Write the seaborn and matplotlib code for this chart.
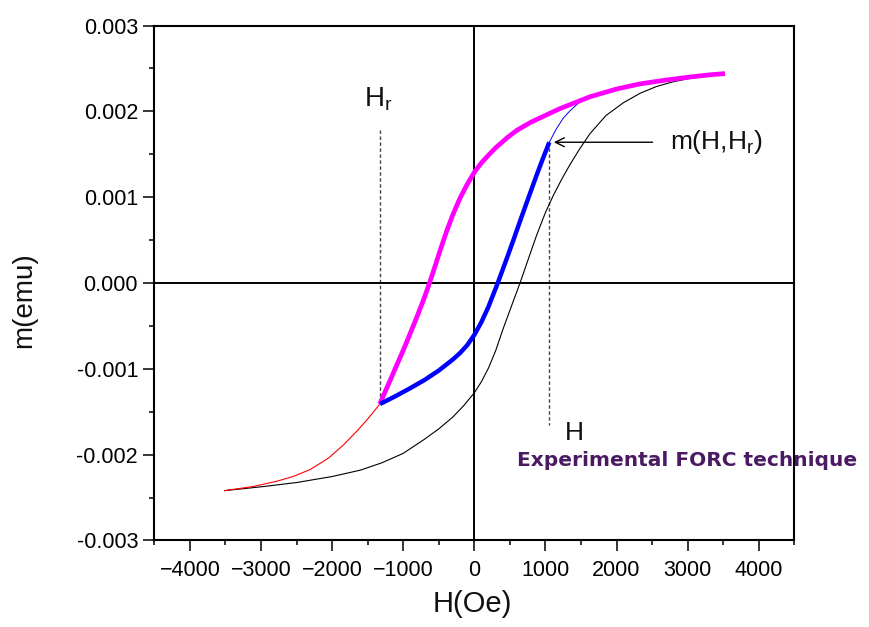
import numpy as np
import pandas as pd
import matplotlib
matplotlib.use("Agg")
import matplotlib.pyplot as plt
import seaborn as sns
from matplotlib.ticker import MultipleLocator, FormatStrFormatter

# Descending branch of the major loop, above the reversal field (thick magenta), m in emu
upper_H = [3526, 3300, 3034, 2700, 2331, 2000, 1627, 1200, 928, 800, 600, 465, 300, 200, 100, 0,
           -100, -200, -300, -388, -440, -500, -560, -630, -700, -800, -900, -995, -1100, -1200, -1330]
upper_m = [0.00244, 0.002425, 0.00240, 0.002365, 0.00232, 0.00226, 0.00217, 0.00203, 0.001925,
           0.001875, 0.00178, 0.001695, 0.001575, 0.00149, 0.00140, 0.00129, 0.00115, 0.00099,
           0.00080, 0.000605, 0.00048, 0.00033, 0.000175, 0.0, -0.000165, -0.00038, -0.000585,
           -0.000775, -0.000975, -0.001165, -0.00141]

# Descending branch below the reversal field (thin red)
lower_desc_H = [-1330, -1420, -1510, -1650, -1838, -2050, -2311, -2550, -2779, -3100, -3520]
lower_desc_m = [-0.00141, -0.001505, -0.001595, -0.001725, -0.001885, -0.00204, -0.002175,
                -0.002255, -0.00231, -0.00237, -0.00242]

# Ascending branch of the major loop (thin black)
asc_H = [-3520, -3000, -2500, -2000, -1600, -1300, -1000, -700, -500, -300, -150, 0, 100, 200, 300,
         407, 500, 643, 760, 878, 1000, 1111, 1230, 1346, 1480, 1627, 1850, 2096, 2330, 2565, 2800,
         3034, 3300, 3526]
asc_m = [-0.00242, -0.002375, -0.002325, -0.002255, -0.00218, -0.002095, -0.001985, -0.00182,
         -0.00170, -0.00156, -0.00143, -0.00128, -0.00115, -0.00099, -0.00079, -0.00053, -0.00032,
         0.0, 0.00028, 0.00056, 0.00082, 0.00102, 0.00121, 0.00138, 0.00156, 0.00174, 0.00195,
         0.00210, 0.00221, 0.00229, 0.002345, 0.002385, 0.00242, 0.00244]

# First-order reversal curve from Hr up to the measurement field H (thick blue)
forc_H = [-1326, -1100, -900, -700, -500, -300, -200, -100, 0, 100, 200, 330, 450, 550, 643, 760,
          878, 960, 1055]
forc_m = [-0.00141, -0.001315, -0.001225, -0.00113, -0.00102, -0.00089, -0.000815, -0.000725,
          -0.000605, -0.000455, -0.000275, 0.0, 0.00027, 0.00050, 0.00072, 0.00099, 0.00126,
          0.00144, 0.00164]

# Continuation of the reversal curve until it rejoins the upper branch (thin blue)
forc_tail_H = [1055, 1150, 1250, 1350, 1450, 1540, 1627]
forc_tail_m = [0.00164, 0.00179, 0.00192, 0.00201, 0.002085, 0.002135, 0.00217]

Hr_value = -1330
H_value = 1055
m_value = 0.00164

x_ticks = [-4000, -3000, -2000, -1000, 0, 1000, 2000, 3000, 4000]
y_ticks = [-0.003, -0.002, -0.001, 0.0, 0.001, 0.002, 0.003]

sns.set_theme(style="white")
plt.rcParams["font.family"] = ["Liberation Sans", "DejaVu Sans"]
plt.rcParams["mathtext.default"] = "regular"

fig = plt.figure(figsize=(8.69, 6.27), dpi=100)
ax = fig.add_axes([0.1776, 0.138, 0.7364, 0.8213])

def draw(h, m, color, lw):
    df = pd.DataFrame({"H": h, "m": m})
    sns.lineplot(data=df, x="H", y="m", sort=False, estimator=None, color=color,
                 linewidth=lw, ax=ax, solid_capstyle="butt", solid_joinstyle="round")

# zero lines
ax.axhline(0, color="black", lw=1.4, zorder=1)
ax.axvline(0, color="black", lw=1.4, zorder=1)

draw(asc_H, asc_m, "black", 0.8)
draw(lower_desc_H, lower_desc_m, "red", 0.8)
draw(forc_tail_H, forc_tail_m, "blue", 0.7)
draw(upper_H, upper_m, "#ff00ff", 3.4)
draw(forc_H, forc_m, "blue", 3.2)

# dashed markers for Hr and H
ax.plot([Hr_value, Hr_value], [0.00178, -0.00141], ls=(0, (2.5, 1.8)), color="#444444", lw=1.0, zorder=0.5)
ax.plot([H_value, H_value], [m_value, -0.00165], ls=(0, (2.5, 1.8)), color="#444444", lw=1.0, zorder=0.5)

ax.text(-1350, 0.00206, "H$_r$", fontsize=20, ha="center", va="baseline", color="#111111")
ax.text(1407, -0.00183, "H", fontsize=19, ha="center", va="baseline", color="#111111")

ax.annotate("", xy=(H_value + 25, m_value), xytext=(2546, m_value),
            arrowprops=dict(arrowstyle="->", color="black", lw=1.0, mutation_scale=16))
ax.text(2757, m_value, "m(H,H$_r$)", fontsize=19, ha="left", va="center", color="#111111")

ax.set_xlim(-4500, 4500)
ax.set_ylim(-0.003, 0.003)
ax.set_xticks(x_ticks)
ax.set_yticks(y_ticks)
ax.xaxis.set_minor_locator(MultipleLocator(500))
ax.yaxis.set_minor_locator(MultipleLocator(0.0005))
ax.yaxis.set_major_formatter(FormatStrFormatter("%.3f"))
ax.tick_params(which="major", direction="out", length=7.7, width=1.1, labelsize=15.5,
               bottom=True, left=True, top=False, right=False, color="black", labelcolor="black")
ax.tick_params(axis="x", which="major", pad=6)
ax.tick_params(axis="y", which="major", pad=4)
ax.tick_params(which="minor", direction="out", length=3.6, width=1.1,
               bottom=True, left=True, top=False, right=False, color="black")
for s in ax.spines.values():
    s.set_color("black")
    s.set_linewidth(1.5)

ax.set_xlabel("H(Oe)", fontsize=21, color="#111111")
ax.set_ylabel("m(emu)", fontsize=20, color="#111111")
ax.xaxis.set_label_coords(0.497, -0.097)
ax.yaxis.set_label_coords(-0.183, 0.467)

fig.text(0.595, 0.257, "Experimental FORC technique", fontsize=14.5, fontweight="bold",
         color="#4a1a62", family=["DejaVu Sans"], ha="left", va="baseline")

fig.savefig("out.png", dpi=100)
